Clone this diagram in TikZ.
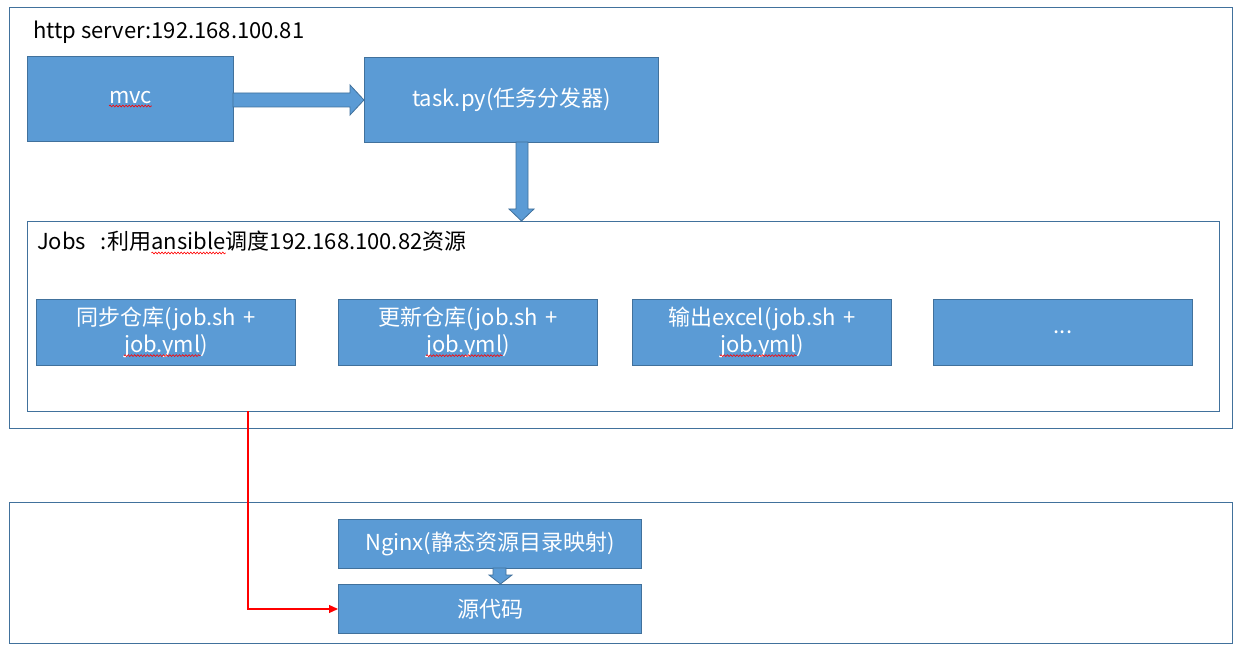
\documentclass[tikz,border=0pt]{standalone}
\usepackage{fontspec}
\setmainfont{Noto Sans CJK SC}
\usetikzlibrary{decorations.pathmorphing,arrows.meta}
\definecolor{boxfill}{HTML}{5B9BD5}
\definecolor{boxline}{HTML}{41719C}
\definecolor{framecol}{HTML}{41719C}
\newcommand\wavyword[1]{\tikz[baseline=(w.base)]{\node[inner sep=0pt,outer sep=0pt,minimum width=0pt,minimum height=0pt,text width={},draw=none,fill=none,anchor=base] (w) at (0,0) {#1};\draw[red,line width=0.6pt,decorate,decoration={snake,amplitude=0.9pt,segment length=3.2pt}] ([yshift=-3pt]w.base west) -- ([yshift=-3pt]w.base east);}}
\begin{document}
\begin{tikzpicture}[x=1pt,y=-1pt,
  framebox/.style={draw=framecol,line width=1pt,fill=none},
  blk/.style={draw=boxline,line width=1pt,fill=boxfill,text=white,inner sep=0pt,anchor=north west,font=\fontsize{22}{27}\selectfont,align=center},
  jobbox/.style={blk,minimum width=259pt,minimum height=66pt,text width=259pt},
  blockarrow/.style={draw=boxline,line width=0.8pt,fill=boxfill},
  lbl/.style={anchor=base west,inner sep=0pt,font=\fontsize{22}{27}\selectfont}]
\useasboundingbox (0,0) rectangle (1235,647);
\fill[white] (0,0) rectangle (1235,647);
% frames
\node[framebox,anchor=north west,minimum width=1223pt,minimum height=421pt,inner sep=0pt] (server) at (9,7) {};
\node[framebox,anchor=north west,minimum width=1223pt,minimum height=141pt,inner sep=0pt] (static) at (9,502) {};
\node[framebox,anchor=north west,minimum width=1192pt,minimum height=190pt,inner sep=0pt] (jobs) at (27,221) {};
% labels
\node[lbl] (title) at (33,39) {http server:192.168.100.81};
\node[lbl] (jobslbl) at (37,250) {Jobs\ \ \ :利用\wavyword{ansible}调度192.168.100.82资源};
% top boxes
\node[blk,minimum width=206pt,minimum height=85pt] (mvc) at (27,56) {\wavyword{mvc}};
\node[blk,minimum width=294pt,minimum height=85pt] (task) at (364,57) {task.py(任务分发器)};
% block arrows
\draw[blockarrow] (233,93) -- (350,93) -- (350,85) -- (364,100) -- (350,115) -- (350,107) -- (233,107) -- cycle;
\draw[blockarrow] (516,142) -- (516,209) -- (509,209) -- (521.5,221) -- (534,209) -- (528,209) -- (528,142) -- cycle;
% job boxes
\node[jobbox] (job1) at (36,299) {同步仓库(job.sh +\\\wavyword{job.yml})};
\node[jobbox] (job2) at (338,299) {更新仓库(job.sh +\\\wavyword{job.yml})};
\node[jobbox] (job3) at (632,299) {输出excel(job.sh +\\\wavyword{job.yml})};
\node[jobbox] (job4) at (933,299) {...};
% bottom
\node[blk,minimum width=303pt,minimum height=49pt] (nginx) at (338,519) {Nginx(静态资源目录映射)};
\node[blk,minimum width=303pt,minimum height=49pt] (src) at (338,584) {源代码};
\draw[blockarrow] (493,568) -- (493,575) -- (489,575) -- (500.5,584) -- (512,575) -- (506,575) -- (506,568) -- cycle;
% red connector
\coordinate (rstart) at (248,411);
\draw[red,line width=1.2pt,-{Triangle[length=9pt,width=8pt]}] (rstart) |- (src.west);
\end{tikzpicture}
\end{document}
